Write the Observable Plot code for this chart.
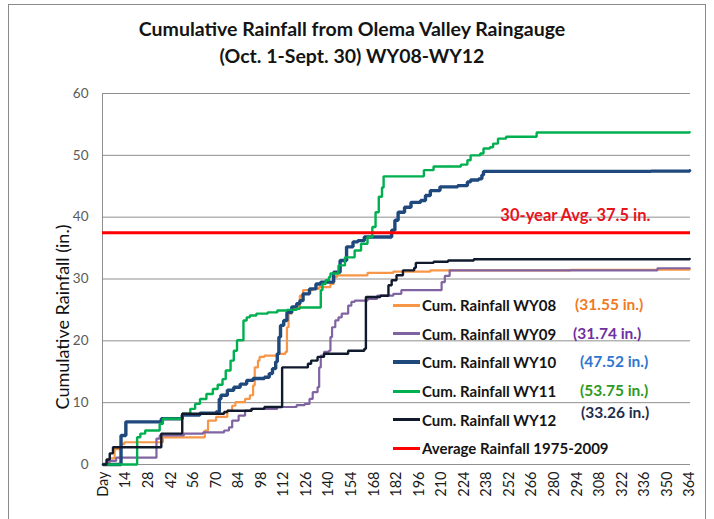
<!DOCTYPE html>
<html>
<head>
<meta charset="utf-8">
<script src="https://cdn.jsdelivr.net/npm/d3@7"></script>
<script src="https://cdn.jsdelivr.net/npm/@observablehq/plot@0.6"></script>
<style>
  body { margin: 0; background: #fff; font-family: Lato, "Open Sans", sans-serif; }
  #wrap { position: relative; width: 714px; height: 519px; overflow: hidden; background: #fff; }
  #frame { position: absolute; left: 8px; top: 4px; width: 698px; height: 560px; border: 1px solid #8a8a8a; box-sizing: border-box; }
  #title { position: absolute; left: 0; top: 15px; width: 704px; text-align: center; font-weight: bold; font-size: 19.5px; line-height: 27px; color: #141414; }
  #chart { position: absolute; left: 0; top: 0; }
  #ylabel { position: absolute; left: 62px; top: 317px; transform: translate(-50%, -50%) rotate(-90deg); white-space: nowrap; font-size: 18px; color: #111; }
  #legend { position: absolute; left: 393px; top: 291px; font-weight: bold; font-size: 15px; color: #141414; }
  .row { position: relative; height: 28.6px; display: flex; align-items: center; }
  .swatch { width: 27px; height: 0; border-top-style: solid; margin-right: 2px; }
  .total { position: absolute; white-space: nowrap; font-size: 15.5px; }
</style>
</head>
<body>
<div id="wrap">
  <div id="frame"></div>
  <div id="title">Cumulative Rainfall from Olema Valley Raingauge<br>(Oct. 1-Sept. 30) WY08-WY12</div>
  <div id="chart"></div>
  <div id="ylabel">Cumulative Rainfall (in.)</div>
  <div id="legend"></div>
</div>
<script>
// Cumulative rainfall (inches) by day of water year; each pair is [day, total after that day].
const wy08 = [[0,0],[4,1.0],[7,2.5],[11,3.3],[13,3.6],[37,4.4],[63,5.5],[65,7.1],[70,7.7],[77,8.7],[80,9.5],[82,10.1],[88,10.6],[91,11.2],[93,12.8],[94,15.7],[96,16.8],[97,17.4],[100,17.6],[108,17.9],[113,18.2],[114,22.2],[115,24.4],[117,25.2],[120,25.5],[122,27.3],[124,28.2],[130,28.4],[134,28.7],[141,29.2],[143,30.3],[145,30.6],[164,31.0],[180,31.2],[203,31.4],[290,31.5],[364,31.55]];
const wy09 = [[0,0],[3,0.6],[8,1.1],[33,4.2],[35,4.7],[50,5.0],[62,5.2],[75,5.5],[78,6.0],[80,7.1],[84,7.9],[88,8.7],[92,9.0],[108,9.3],[120,9.6],[125,9.8],[128,10.6],[130,11.7],[133,12.5],[134,15.7],[135,17.6],[137,18.2],[140,18.4],[141,20.6],[142,22.2],[144,23.3],[146,23.8],[148,24.4],[152,25.7],[154,26.3],[156,26.5],[164,26.8],[170,27.3],[180,27.6],[185,28.2],[210,29.5],[212,30.5],[215,31.4],[344,31.74],[364,31.74]];
const wy10 = [[0,0],[11,4.7],[14,6.9],[36,7.4],[49,8.0],[60,8.3],[70,8.5],[72,10.6],[73,11.2],[77,12.0],[81,12.5],[85,13.0],[89,13.6],[93,13.9],[100,14.1],[103,14.7],[105,15.5],[107,16.6],[108,17.9],[109,20.6],[110,22.5],[112,23.3],[114,24.6],[117,25.5],[120,26.0],[122,26.5],[124,27.6],[128,28.4],[132,29.2],[135,29.5],[143,31.1],[147,33.0],[151,35.2],[155,36.0],[158,36.2],[162,36.8],[179,37.9],[181,39.5],[183,40.8],[187,41.6],[191,42.4],[197,42.7],[200,43.5],[203,44.3],[209,44.9],[220,45.1],[226,45.7],[228,46.0],[233,46.2],[235,46.8],[236,47.4],[340,47.45],[364,47.52]];
const wy11 = [[0,0],[21,4.4],[23,5.0],[26,5.5],[35,6.6],[37,7.4],[49,8.2],[54,9.0],[57,9.8],[60,10.6],[64,11.4],[68,12.2],[71,12.9],[74,13.8],[76,15.2],[79,16.8],[81,18.4],[83,20.1],[87,23.3],[89,23.8],[91,24.1],[95,24.4],[102,24.6],[108,24.9],[114,25.0],[120,25.2],[122,25.4],[135,28.2],[136,29.2],[138,29.8],[140,30.3],[141,30.9],[146,32.2],[150,33.5],[156,34.6],[160,35.7],[164,36.8],[167,38.4],[169,40.8],[171,43.3],[173,44.8],[174,46.6],[199,47.6],[205,48.2],[222,48.5],[226,49.2],[228,50.0],[234,50.3],[236,51.1],[240,51.3],[242,51.9],[245,52.7],[250,53.0],[269,53.7],[364,53.75]];
const wy12 = [[0,0],[2,0.8],[4,1.8],[6,2.8],[36,5.0],[49,8.2],[75,8.5],[77,8.7],[92,9.0],[100,9.3],[111,15.7],[127,16.3],[129,16.8],[133,17.4],[137,17.9],[152,18.4],[162,18.7],[163,27.1],[172,27.3],[177,29.0],[179,29.8],[182,30.6],[186,31.4],[193,31.8],[194,32.6],[205,32.8],[214,33.0],[230,33.2],[364,33.26]];

const seriesNames = ["Cum. Rainfall WY08", "Cum. Rainfall WY09", "Cum. Rainfall WY10", "Cum. Rainfall WY11", "Cum. Rainfall WY12"];
const seriesTotals = ["(31.55 in.)", "(31.74 in.)", "(47.52 in.)", "(53.75 in.)", "(33.26 in.)"];
const avgName = "Average Rainfall 1975-2009";
const avgRainfall = 37.5;

const yTicks = [0, 10, 20, 30, 40, 50, 60];
const xTicks = d3.range(0, 365, 14);

// Presentation for each series: line colour, stroke width, total-label colour and offset.
const styles = [
  { color: "#F79646", width: 2.2, totalColor: "#F07A22", totalX: 182 },
  { color: "#8064A2", width: 2.2, totalColor: "#7030A0", totalX: 180 },
  { color: "#1F497D", width: 3.4, totalColor: "#2E75D0", totalX: 187 },
  { color: "#00B050", width: 2.4, totalColor: "#2C9A1E", totalX: 187 },
  { color: "#111A2C", width: 2.4, totalColor: "#1F2D4D", totalX: 188 }
];

const steps = [wy08, wy09, wy10, wy11, wy12];
const rows = steps.flatMap((s, i) => s.map(([day, inches]) => ({ series: seriesNames[i], day, inches })));

const lineMarks = seriesNames.map((name, i) =>
  Plot.line(rows.filter(r => r.series === name), {
    x: "day", y: "inches", curve: "step-after",
    stroke: styles[i].color, strokeWidth: styles[i].width, strokeLinejoin: "miter"
  })
);

const chart = Plot.plot({
  width: 714,
  height: 519,
  marginLeft: 102,
  marginRight: 24,
  marginTop: 93,
  marginBottom: 55,
  x: { domain: [-0.5, 364.5], axis: null },
  y: { domain: [0, 60], axis: null },
  style: { fontFamily: "Lato, 'Open Sans', sans-serif", background: "transparent", overflow: "visible" },
  marks: [
    Plot.gridY(yTicks.filter(t => t > 0), { stroke: "#8f8f8f", strokeOpacity: 1, strokeWidth: 1 }),
    Plot.axisY(yTicks, { tickSize: 0, tickPadding: 14, fontSize: 13.5, fill: "#5a5a5a", label: null }),
    Plot.axisX(xTicks, {
      tickSize: 0, tickPadding: 7, tickRotate: -90, fontSize: 14.5, fill: "#1a1a1a", label: null,
      tickFormat: d => d === 0 ? "Day" : String(d)
    }),
    Plot.ruleX([-0.5], { stroke: "#8f8f8f" }),
    Plot.ruleY([0], { stroke: "#8f8f8f" }),
    ...lineMarks,
    Plot.ruleY([avgRainfall], { stroke: "#FF0000", strokeWidth: 3 }),
    Plot.text([avgRainfall], {
      y: d => d, frameAnchor: "right", textAnchor: "end", dx: -40, dy: -17,
      text: d => `30-year Avg. ${d} in.`, fill: "#E8141C", fontWeight: "bold", fontSize: 16.5
    })
  ]
});
document.getElementById("chart").appendChild(chart);

// Legend rows with stated seasonal totals
const legend = d3.select("#legend");
seriesNames.forEach((name, i) => {
  const row = legend.append("div").attr("class", "row");
  row.append("div").attr("class", "swatch")
    .style("border-top-color", styles[i].color)
    .style("border-top-width", (i === 2 ? 4 : 3) + "px");
  row.append("span").text(name);
  row.append("span").attr("class", "total")
    .style("left", styles[i].totalX + "px")
    .style("color", styles[i].totalColor)
    .style("top", i === 4 ? "-2px" : "4px")
    .text(seriesTotals[i]);
});
const avgRow = legend.append("div").attr("class", "row");
avgRow.append("div").attr("class", "swatch").style("border-top-color", "#FF0000").style("border-top-width", "3px");
avgRow.append("span").text(avgName);
</script>
</body>
</html>
